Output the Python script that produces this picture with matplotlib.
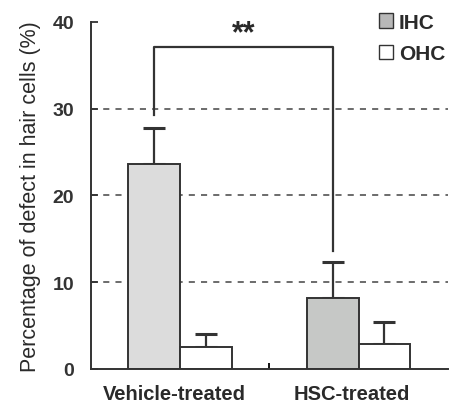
import matplotlib.pyplot as plt
from matplotlib.patches import Patch

plt.rcParams['font.family'] = ['Liberation Sans', 'DejaVu Sans']

# hair cell defect data
groups = ["Vehicle-treated", "HSC-treated"]
ihc_mean = [23.6, 8.2]
ihc_err = [4.2, 4.1]
ohc_mean = [2.5, 2.9]
ohc_err = [1.5, 2.5]
ihc_colors = ["#dcdcdc", "#c6c8c6"]
yticks = [0, 10, 20, 30, 40]

fig = plt.figure(figsize=(4.5, 4.06), dpi=100)
ax = fig.add_axes([0.202, 0.089, 0.793, 0.855])

centers = [1, 3]
w = 0.58
edge = "#333333"
txt = "#2a2a2a"

for y in yticks[1:-1]:
    ax.axhline(y, color="#444444", lw=1.1, ls=(0, (4, 4)), zorder=0)

ihc_x = [c - w / 2 for c in centers]
ohc_x = [c + w / 2 for c in centers]
ax.bar(ihc_x, ihc_mean, w, color=ihc_colors, edgecolor=edge, lw=1.4, zorder=2)
ax.bar(ohc_x, ohc_mean, w, color="white", edgecolor=edge, lw=1.4, zorder=2)
ax.errorbar(ihc_x, ihc_mean, yerr=[[0, 0], ihc_err], fmt="none", ecolor=edge,
            elinewidth=1.6, capsize=8, capthick=2.2, zorder=1)
ax.errorbar(ohc_x, ohc_mean, yerr=[[0, 0], ohc_err], fmt="none", ecolor=edge,
            elinewidth=1.6, capsize=8, capthick=2.2, zorder=1)

# significance bracket between the IHC bars
top = 37.1
left_end = ihc_mean[0] + ihc_err[0] + 1.4
right_end = ihc_mean[1] + ihc_err[1] + 1.3
ax.plot([ihc_x[0], ihc_x[0], ihc_x[1], ihc_x[1]], [left_end, top, top, right_end],
        color=edge, lw=1.6, zorder=3)
ax.text(1.71, 37.0, "**", ha="center", va="bottom", fontsize=22, fontweight="bold", color=txt)

ax.set_xlim(0, 4)
ax.set_ylim(0, 40)
ax.set_yticks(yticks)
ax.set_yticklabels([str(t) for t in yticks], fontsize=14, fontweight="bold", color=txt)
ax.set_xticks([2])
ax.set_xticklabels([""])
ax.tick_params(axis="y", direction="in", length=5, width=1.3, pad=12, colors=edge)
ax.tick_params(axis="x", direction="in", length=4, width=1.3)
for c, g in zip(centers, groups):
    ax.text(c - 0.07, -1.8, g, ha="center", va="top", fontsize=14.5, fontweight="bold", color=txt)

for s in ["top", "right"]:
    ax.spines[s].set_visible(False)
for s in ["left", "bottom"]:
    ax.spines[s].set_linewidth(1.4)
    ax.spines[s].set_color(edge)

ax.set_ylabel("Percentage of defect in hair cells (%)", fontsize=15.5, color=txt, labelpad=8)

handles = [Patch(facecolor="#b8b8b8", edgecolor=edge, label="IHC"),
           Patch(facecolor="white", edgecolor=edge, label="OHC")]
leg = ax.legend(handles=handles, loc="upper right", bbox_to_anchor=(1.045, 1.08), frameon=False,
                handlelength=0.7, handleheight=0.7, handletextpad=0.25, labelspacing=0.6,
                prop={"size": 15, "weight": "bold"})
for t in leg.get_texts():
    t.set_color(txt)

fig.savefig("out.png", dpi=100)
